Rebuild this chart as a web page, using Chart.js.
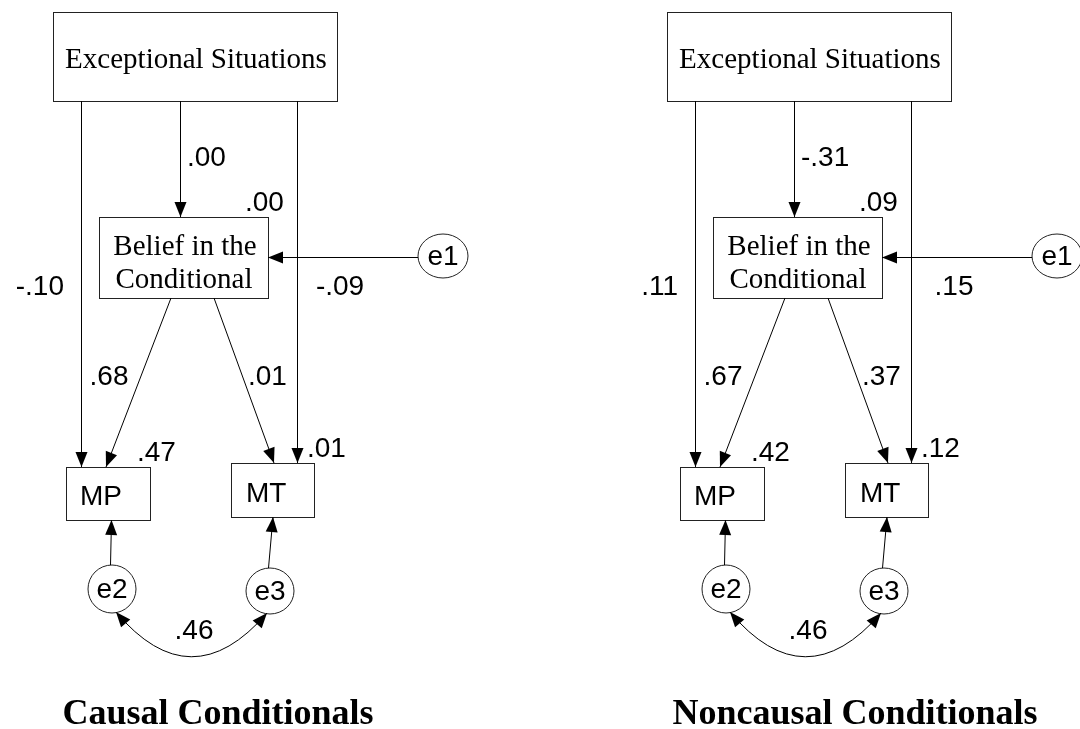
<!DOCTYPE html>
<html>
<head>
<meta charset="utf-8">
<script src="https://cdn.jsdelivr.net/npm/chart.js@4.4.1/dist/chart.umd.min.js"></script>
<style>
  html, body { margin: 0; padding: 0; background: #fff; }
  #pathChart { display: block; }
</style>
</head>
<body>
<canvas id="pathChart" width="1080" height="729"></canvas>
<script>
// Path model estimates, one entry per panel (causal, noncausal)
const panelTitles = ['Causal Conditionals', 'Noncausal Conditionals'];
const excLabel = 'Exceptional Situations';
const beliefLabel = ['Belief in the', 'Conditional'];
const outcomeLabels = ['MP', 'MT'];
const errorLabels = ['e1', 'e2', 'e3'];

const excToBelief = ['.00', '-.31'];
const excToMP = ['-.10', '.11'];
const excToMT = ['-.09', '.15'];
const beliefToMP = ['.68', '.67'];
const beliefToMT = ['.01', '.37'];
const r2Belief = ['.00', '.09'];
const r2MP = ['.47', '.42'];
const r2MT = ['.01', '.12'];
const covE2E3 = ['.46', '.46'];

// Layout of one panel in diagram units (the second panel is shifted right)
const panelShift = [0, 614];
const titleX = [218, 855];
const boxes = {
  exc: { x: 53, y: 12, w: 284, h: 89 },
  belief: { x: 99, y: 217, w: 169, h: 81 },
  mp: { x: 66, y: 467, w: 84, h: 53 },
  mt: { x: 231, y: 463, w: 83, h: 54 }
};
const ovals = {
  e1: { cx: 443, cy: 256, rx: 25, ry: 22 },
  e2: { cx: 112, cy: 589, rx: 24, ry: 24 },
  e3: { cx: 270, cy: 591, rx: 24, ry: 23 }
};

const SERIF = '"Liberation Serif", "Times New Roman", serif';
const SANS = '"Liberation Sans", Arial, sans-serif';

function arrowHead(ctx, x1, y1, x2, y2) {
  const ang = Math.atan2(y2 - y1, x2 - x1);
  const len = 15, half = 6;
  ctx.beginPath();
  ctx.moveTo(x2, y2);
  ctx.lineTo(x2 - len * Math.cos(ang) + half * Math.sin(ang), y2 - len * Math.sin(ang) - half * Math.cos(ang));
  ctx.lineTo(x2 - len * Math.cos(ang) - half * Math.sin(ang), y2 - len * Math.sin(ang) + half * Math.cos(ang));
  ctx.closePath();
  ctx.fill();
}

const pathPlugin = {
  id: 'pathDiagram',
  afterDraw(chart) {
    const ctx = chart.ctx;
    const sx = chart.scales.x, sy = chart.scales.y;
    ctx.save();
    ctx.strokeStyle = '#000';
    ctx.fillStyle = '#000';
    ctx.lineWidth = 1;

    panelTitles.forEach((title, p) => {
      const off = panelShift[p];
      const X = v => sx.getPixelForValue(v + off);
      const Y = v => sy.getPixelForValue(v);

      const line = (x1, y1, x2, y2, arrow) => {
        ctx.beginPath();
        ctx.moveTo(X(x1), Y(y1));
        ctx.lineTo(X(x2), Y(y2));
        ctx.stroke();
        if (arrow) arrowHead(ctx, X(x1), Y(y1), X(x2), Y(y2));
      };
      const text = (str, x, y, font, align) => {
        ctx.font = font;
        ctx.textAlign = align || 'left';
        ctx.textBaseline = 'alphabetic';
        ctx.fillText(str, X(x), Y(y));
      };

      // boxes
      ctx.strokeStyle = '#222';
      Object.values(boxes).forEach(b => {
        ctx.strokeRect(Math.round(X(b.x)) + 0.5, Math.round(Y(b.y)) + 0.5,
          X(b.x + b.w) - X(b.x), Y(b.y + b.h) - Y(b.y));
      });
      // error terms
      Object.values(ovals).forEach(o => {
        ctx.beginPath();
        ctx.ellipse(X(o.cx), Y(o.cy), X(o.cx + o.rx) - X(o.cx), Y(o.cy + o.ry) - Y(o.cy), 0, 0, Math.PI * 2);
        ctx.stroke();
      });
      ctx.strokeStyle = '#000';

      const exc = boxes.exc, bel = boxes.belief, mp = boxes.mp, mt = boxes.mt;
      const excBottom = exc.y + exc.h;
      // straight paths
      line(81.5, excBottom, 81.5, mp.y, true);
      line(180.5, excBottom, 180.5, bel.y, true);
      line(297.5, excBottom, 297.5, mt.y, true);
      line(ovals.e1.cx - ovals.e1.rx, 257.5, bel.x + bel.w, 257.5, true);
      line(171, bel.y + bel.h, 106, mp.y, true);
      line(214, bel.y + bel.h, 274, mt.y, true);
      line(110.5, ovals.e2.cy - ovals.e2.ry, 111.5, mp.y + mp.h, true);
      line(268.5, ovals.e3.cy - ovals.e3.ry, 273, mt.y + mt.h, true);

      // covariance e2 <-> e3
      const ax = 116, ay = 612, bx = 267, by = 613, cx = 191, cy = 701;
      ctx.beginPath();
      ctx.moveTo(X(ax), Y(ay));
      ctx.quadraticCurveTo(X(cx), Y(cy), X(bx), Y(by));
      ctx.stroke();
      arrowHead(ctx, X(cx), Y(cy), X(ax), Y(ay));
      arrowHead(ctx, X(cx), Y(cy), X(bx), Y(by));

      // node texts
      const serif = '29px ' + SERIF, sans = '28px ' + SANS;
      text(excLabel, 196, 68, serif, 'center');
      text(beliefLabel[0], 185, 255, serif, 'center');
      text(beliefLabel[1], 184, 288, serif, 'center');
      text(outcomeLabels[0], 80, 505, sans);
      text(outcomeLabels[1], 246, 502, sans);
      errorLabels.forEach(k => {
        const o = ovals[k];
        text(k, o.cx, o.cy + 9, sans, 'center');
      });

      // estimates
      text(excToBelief[p], 187, 166, sans);
      text(r2Belief[p], 245, 211, sans);
      text(excToMP[p], 64, 295, sans, 'right');
      text(excToMT[p], 340, 295, sans, 'center');
      text(beliefToMP[p], 109, 385, sans, 'center');
      text(beliefToMT[p], 248, 385, sans);
      text(r2MP[p], 137, 461, sans);
      text(r2MT[p], 307, 457, sans);
      text(covE2E3[p], 194, 639, sans, 'center');

      // panel title
      ctx.font = 'bold 36px ' + SERIF;
      ctx.textAlign = 'center';
      ctx.fillText(title, sx.getPixelForValue(titleX[p]), Y(724));
    });
    ctx.restore();
  }
};

new Chart(document.getElementById('pathChart'), {
  type: 'scatter',
  data: { datasets: [] },
  options: {
    responsive: false,
    animation: false,
    layout: { padding: 0 },
    plugins: { legend: { display: false }, tooltip: { enabled: false } },
    scales: {
      x: { type: 'linear', min: 0, max: 1080, display: false },
      y: { type: 'linear', min: 0, max: 729, reverse: true, display: false }
    }
  },
  plugins: [pathPlugin]
});
</script>
</body>
</html>
